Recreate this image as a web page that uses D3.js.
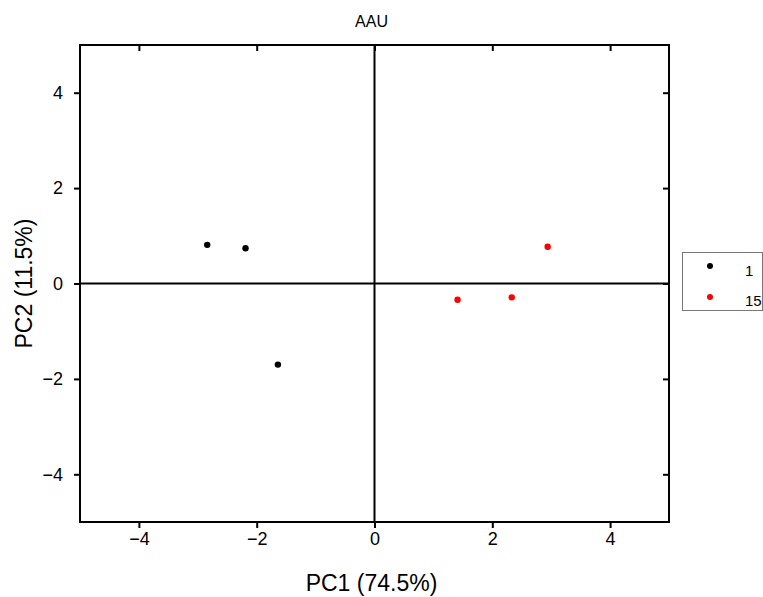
<!DOCTYPE html>
<html><head><meta charset="utf-8">
<script src="https://cdn.jsdelivr.net/npm/d3@7"></script>
<style>body{margin:0;background:#fff}svg{display:block;font-family:Arial,"Liberation Sans",sans-serif}</style>
</head><body>
<script>
const groups = ["1", "15"];
const colors = ["#000000", "#ff0000"];
const pc1_g1 = [-2.84, -2.19, -1.64];
const pc2_g1 = [0.81, 0.74, -1.70];
const pc1_g15 = [2.94, 1.41, 2.33];
const pc2_g15 = [0.77, -0.34, -0.29];
const ticks = [-4, -2, 0, 2, 4];

(function () {
const W = 763, H = 597;
const m = {l: 80, r: 669, t: 45, b: 522};
const svg = d3.select("body").append("svg").attr("width", W).attr("height", H);
const x = d3.scaleLinear().domain([-5, 5]).range([m.l, m.r]);
const y = d3.scaleLinear().domain([-5, 5]).range([m.b, m.t]);

const fmt = d => d < 0 ? "\u2212" + Math.abs(d) : String(d);
const axB = svg.append("g").attr("transform", `translate(0,${m.b})`)
  .call(d3.axisBottom(x).tickValues(ticks).tickSize(6).tickPadding(4).tickFormat(fmt));
const axL = svg.append("g").attr("transform", `translate(${m.l},0)`)
  .call(d3.axisLeft(y).tickValues(ticks).tickSize(6).tickPadding(11).tickFormat(fmt));
const axT = svg.append("g").attr("transform", `translate(0,${m.t})`)
  .call(d3.axisTop(x).tickValues(ticks).tickSize(-6).tickFormat(""));
const axR = svg.append("g").attr("transform", `translate(${m.r},0)`)
  .call(d3.axisRight(y).tickValues(ticks).tickSize(-6).tickFormat(""));
[axB, axL, axT, axR].forEach(g => {
  g.select(".domain").remove();
  g.selectAll(".tick line").attr("stroke", "#000").attr("stroke-width", 2);
  g.selectAll("text").attr("font-size", 18).attr("fill", "#000").attr("font-family", "Arial, Liberation Sans, sans-serif");
});
svg.append("rect").attr("x", m.l).attr("y", m.t).attr("width", m.r - m.l).attr("height", m.b - m.t)
  .attr("fill", "none").attr("stroke", "#000").attr("stroke-width", 2);

// zero lines
svg.append("line").attr("x1", x(0)).attr("x2", x(0)).attr("y1", m.t).attr("y2", m.b).attr("stroke", "#000").attr("stroke-width", 2);
svg.append("line").attr("x1", m.l).attr("x2", m.r).attr("y1", y(0)).attr("y2", y(0)).attr("stroke", "#000").attr("stroke-width", 2);

const data = [
  pc1_g1.map((v, i) => ({x: v, y: pc2_g1[i], g: 0})),
  pc1_g15.map((v, i) => ({x: v, y: pc2_g15[i], g: 1}))
].flat();
svg.append("g").selectAll("circle").data(data).join("circle")
  .attr("cx", d => x(d.x)).attr("cy", d => y(d.y)).attr("r", 3.2)
  .attr("fill", d => colors[d.g]);

svg.append("text").attr("x", x(0) - 3).attr("y", 27).attr("text-anchor", "middle").attr("font-size", 16).text("AAU");
svg.append("text").attr("x", x(0) - 3).attr("y", 591).attr("text-anchor", "middle").attr("font-size", 23).text("PC1 (74.5%)");
svg.append("text").attr("transform", `translate(32,${y(0)}) rotate(-90)`).attr("text-anchor", "middle").attr("font-size", 23).text("PC2 (11.5%)");

// legend
const lg = svg.append("g");
lg.append("rect").attr("x", 682.5).attr("y", 252.5).attr("width", 80).attr("height", 58)
  .attr("fill", "#fff").attr("stroke", "#777").attr("stroke-width", 1);
groups.forEach((g, i) => {
  lg.append("circle").attr("cx", 710).attr("cy", 266 + i * 31).attr("r", 3).attr("fill", colors[i]);
  lg.append("text").attr("x", 745).attr("y", 276 + i * 30).attr("font-size", 15).text(g);
});
})();
</script>
</body></html>
